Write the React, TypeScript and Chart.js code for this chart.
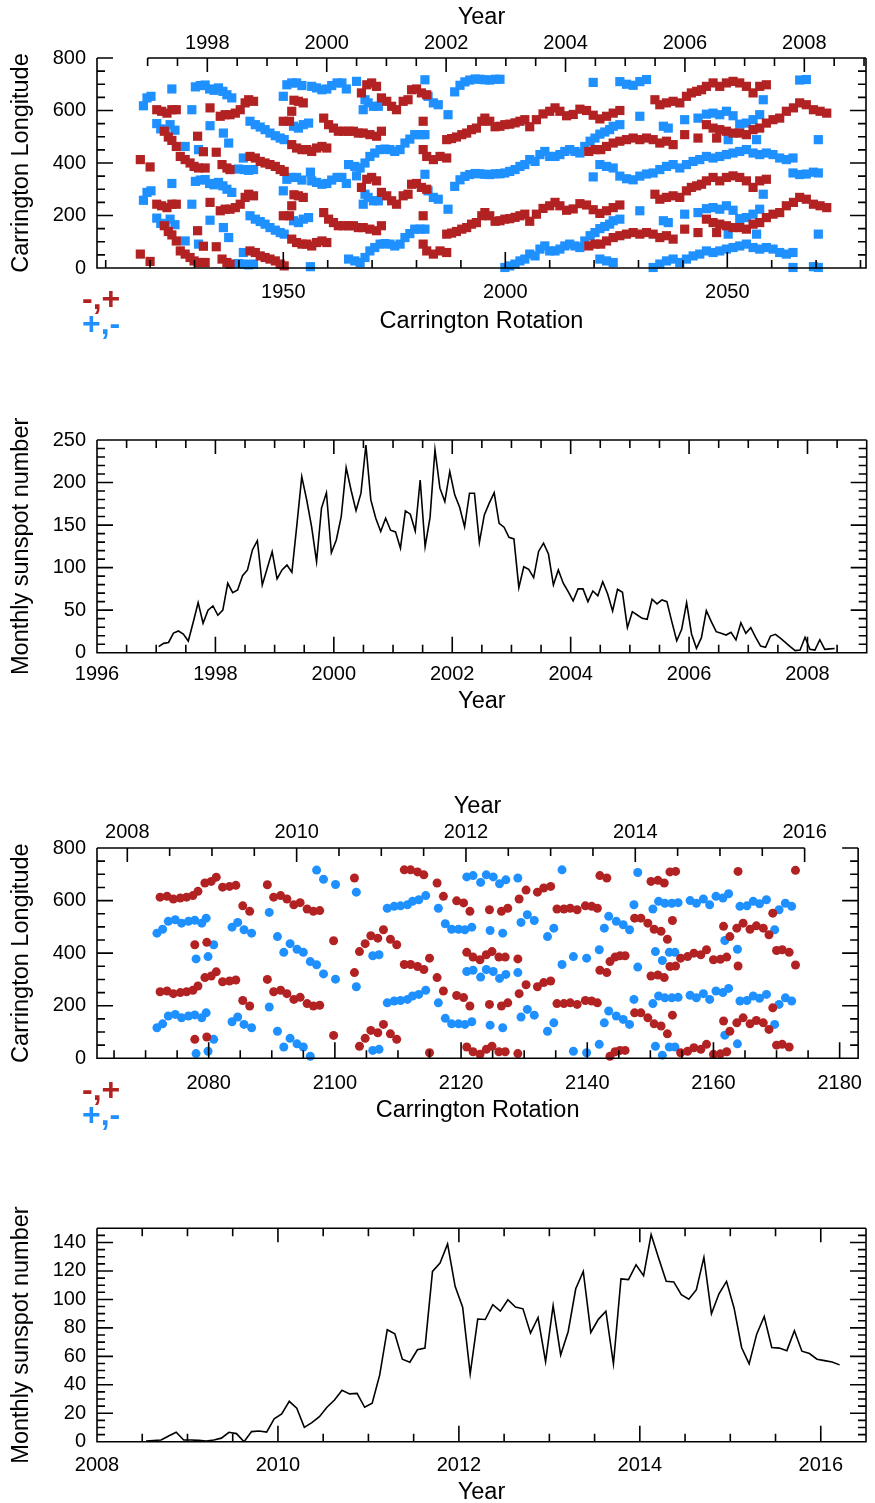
import React, { useEffect, useRef } from 'react';
import { Chart, registerables } from 'chart.js';

Chart.register(...registerables);

const FONT_FAMILY = "'Liberation Sans', Arial, Helvetica, sans-serif";
const TICK_SIZE = 20;
const TITLE_SIZE = 23.5;
const RED = '#B22222';
const BLUE = '#1E90FF';
const W = 875;

// ---------------- Panel 1: active longitudes, CR 1908-2081 (base longitude 0-360, drawn at L and L+360)
const p1RedCR = [1917.8,1920.0,1921.5,1922.6,1923.8,1924.9,1925.9,1923.2,1924.1,1924.9,1925.9,1926.8,1927.9,1929.0,1929.9,1930.9,1932.4,1930.7,1932.0,1934.9,1933.5,1936.2,1937.3,1938.0,1935.8,1936.9,1938.0,1939.2,1940.3,1941.4,1942.2,1943.3,1942.5,1943.7,1944.8,1945.9,1947.0,1948.2,1949.3,1950.2,1950.0,1951.4,1951.9,1952.4,1953.4,1954.5,1951.9,1953.0,1954.2,1955.3,1956.4,1957.5,1958.7,1959.8,1959.1,1960.2,1961.3,1962.4,1963.6,1964.7,1965.8,1966.9,1968.0,1969.5,1971.0,1972.1,1967.6,1968.8,1969.9,1971.0,1972.1,1973.3,1974.4,1975.5,1977.0,1978.1,1978.9,1980.0,1981.1,1982.3,1981.5,1981.5,1982.3,1983.8,1985.3,1986.8,1986.8,1987.9,1989.0,1990.2,1991.3,1992.4,1993.5,1994.7,1995.4,1996.5,1997.7,1998.8,1999.9,2001.0,2002.2,2003.3,2004.4,2005.5,2007.0,2008.5,2010.0,2011.2,2012.3,2013.8,2015.3,2016.8,2018.3,2019.8,2021.3,2022.8,2024.3,2025.8,2018.8,2020.2,2021.5,2022.8,2024.3,2025.8,2027.3,2028.8,2030.3,2031.8,2033.3,2034.8,2036.3,2037.8,2040.4,2043.4,2047.6,2033.7,2034.8,2036.3,2037.8,2039.3,2040.8,2041.9,2043.1,2044.2,2045.3,2046.8,2048.3,2049.8,2051.3,2052.8,2054.3,2055.8,2057.3,2058.8,2045.3,2046.8,2048.3,2049.8,2051.3,2052.8,2054.3,2055.8,2057.3,2058.8,2060.3,2061.8,2063.3,2064.9,2066.3,2067.8,2069.4,2070.9,2072.4];
const p1RedLon = [53,25,243,237,230,243,243,161,139,126,103,65,53,40,27,21,21,142,83,81,250,34,21,15,218,224,224,230,243,269,281,275,65,59,46,40,34,27,15,8,199,199,237,279,275,269,110,97,91,91,84,97,103,97,211,186,173,161,161,161,161,154,154,148,142,161,307,338,345,332,288,275,256,243,275,281,319,322,307,300,199,91,65,53,65,59,129,133,139,148,154,167,173,199,211,199,178,180,186,188,193,199,205,178,205,227,237,250,237,220,225,245,240,222,208,218,230,240,84,91,91,103,116,123,129,135,129,135,129,116,123,110,148,135,135,281,262,269,275,269,294,307,313,319,332,345,332,345,351,345,332,307,332,338,186,173,167,161,154,154,148,167,173,192,205,211,237,250,269,262,243,237,230];
const p1BlueCR = [1918.5,1919.3,1920.2,1924.9,1921.5,1922.4,1923.4,1924.5,1925.6,1927.9,1929.4,1930.9,1930.2,1931.3,1932.4,1933.4,1934.4,1935.4,1936.4,1937.3,1938.4,1933.5,1936.5,1937.7,1941.0,1939.9,1941.2,1942.2,1943.3,1942.5,1943.7,1944.8,1945.9,1947.0,1948.2,1949.3,1950.2,1950.0,1950.8,1951.9,1953.0,1954.2,1956.4,1957.5,1958.7,1959.8,1960.9,1962.1,1963.2,1964.2,1952.3,1953.4,1954.5,1955.7,1956.1,1964.7,1966.1,1967.3,1968.4,1969.5,1970.6,1971.8,1972.9,1974.0,1975.1,1976.3,1977.4,1978.5,1979.6,1980.8,1981.9,1966.5,1968.0,1968.4,1969.1,1970.3,1971.4,1981.9,1982.6,1983.8,1984.9,1987.1,1988.6,1989.8,1990.9,1992.0,1993.2,1994.3,1995.4,1996.5,1997.7,1998.8,1999.9,2001.0,2002.2,2003.3,2004.4,2005.5,2006.7,2007.8,2008.9,2010.0,2011.2,2012.3,2013.4,2014.5,2015.7,2016.8,2017.9,2019.1,2020.2,2021.3,2022.4,2023.5,2024.3,2025.8,2019.8,2021.3,2022.8,2024.3,2025.8,2027.3,2028.8,2030.3,2031.8,2033.3,2034.8,2036.3,2037.8,2039.3,2040.8,2042.3,2043.8,2045.3,2046.8,2048.3,2049.8,2051.3,2052.8,2054.3,2055.8,2057.3,2058.8,2060.3,2061.8,2063.3,2064.8,2064.8,2066.3,2067.8,2069.4,2070.5,2045.3,2046.8,2048.3,2049.8,2051.3,2052.8,2054.3,2055.8,2057.3,2058.1,2030.3,2035.6,2036.7,2040.4,2043.4,2050.2,2056.6,2070.5];
const p1BlueLon = [258,288,294,322,190,170,167,186,165,103,243,91,330,335,337,322,317,326,313,300,288,182,154,116,59,17,15,12,15,199,186,177,167,154,144,135,129,294,338,345,345,335,332,326,319,322,335,345,345,322,180,173,186,192,5,34,27,21,40,65,78,91,93,91,84,91,116,131,148,148,148,351,243,281,269,256,256,357,294,269,262,224,311,336,349,356,360,359,357,356,359,359,2,8,15,27,34,53,46,72,84,65,65,72,84,91,84,78,103,123,135,150,158,167,180,186,347,34,27,21,350,340,336,350,358,2,15,27,34,21,34,46,53,65,59,65,72,78,84,91,78,72,78,72,59,53,59,2,356,358,5,2,226,230,224,237,220,188,192,205,224,281,218,180,173,205,211,129,129,129];
const p1LonTicks = [0, 200, 400, 600, 800];
const p1CRTicks = [1950, 2000, 2050];
const p1YearTicks = [1998, 2000, 2002, 2004, 2006, 2008];

// ---------------- Panel 2: monthly sunspot number, Jan 1997 - Jun 2008
const ssn1Start = 1997;
const ssn1 = [
  7.1, 11, 12, 23, 25.5, 22, 13.7, 35.8, 58.8, 34.6, 50, 55,
  44, 50, 81.6, 70.6, 73.7, 90.6, 97.3, 120.8, 131.8, 79.6, 99.3, 118.8,
  86.7, 97.3, 103, 94.6, 149.6, 207, 179.6, 148, 107, 170, 188, 117.5,
  132.5, 160, 217.6, 191, 167, 187.5, 244, 179.6, 158, 142.4, 158, 144,
  142, 122.8, 166.7, 162.8, 143, 203, 124.7, 159, 238.5, 193.4, 177.7, 213,
  185.5, 171, 148, 187.5, 187.5, 129.5, 162, 175.8, 188, 152, 147.5, 135.7,
  133.7, 76.5, 101, 98, 88.3, 119, 128.7, 116, 79.6, 97.3, 81.7, 71.8,
  60.8, 75, 75, 60, 72.5, 67, 83.5, 69, 49, 74.6, 71, 29.4,
  48.2, 44.3, 40.4, 39.3, 62.8, 57.3, 62, 60, 36.5, 14.1, 27.5, 58.8,
  22, 5.2, 17.7, 49.4, 36.5, 24.7, 22.8, 20.8, 24, 15, 35.3, 22.8,
  29.4, 18.1, 7.8, 6.3, 19.6, 21.6, 17, 12.2, 7.1, 2.4, 3.1, 18.1,
  4, 3.1, 15.3, 4, 4.5, 5,
];
const p2YearTicks = [1996, 1998, 2000, 2002, 2004, 2006, 2008];
const p2SsnTicks = [0, 50, 100, 150, 200, 250];

// ---------------- Panel 3: active longitudes, CR 2062-2183
const p3RedCR = [2072.3,2073.4,2074.4,2075.5,2076.5,2077.5,2078.3,2079.4,2080.4,2081.2,2082.2,2083.3,2084.3,2085.4,2086.5,2089.3,2090.3,2091.4,2092.4,2093.5,2094.5,2095.6,2096.6,2097.6,2077.8,2079.7,2099.8,2103.1,2111.0,2112.0,2113.1,2114.1,2116.2,2117.2,2119.3,2120.4,2121.4,2124.5,2126.4,2127.4,2129.2,2130.3,2132.1,2133.1,2134.2,2103.9,2104.8,2105.7,2106.8,2107.7,2108.8,2109.8,2115.0,2120.9,2121.9,2123.0,2124.0,2124.9,2126.0,2127.0,2129.0,2135.2,2136.3,2137.3,2138.4,2139.7,2140.7,2141.6,2142.0,2143.1,2143.6,2144.4,2145.2,2146.0,2147.5,2148.5,2149.6,2150.6,2151.7,2152.7,2150.1,2151.2,2152.2,2153.1,2154.0,2153.5,2154.8,2155.9,2156.9,2158.0,2158.9,2160.0,2161.1,2162.1,2161.6,2162.6,2163.7,2164.7,2165.8,2166.8,2167.9,2168.8,2163.9,2169.4,2170.0,2170.9,2172.0,2173.0];
const p3RedLon = [253,256,246,250,253,259,275,307,313,329,291,294,298,220,199,300,253,259,246,224,232,208,199,202,72,81,87,326,357,357,349,338,307,256,239,231,199,205,199,211,246,280,272,288,294,46,76,106,97,129,93,72,21,43,25,15,34,46,25,25,18,208,208,211,205,220,218,211,335,326,8,25,30,30,173,173,154,131,123,93,313,317,307,349,351,164,21,27,40,34,53,15,17,25,142,103,135,154,131,144,135,110,351,192,50,53,43,355];
const p3BlueCR = [2071.8,2072.7,2073.6,2074.7,2075.7,2076.8,2077.8,2078.9,2079.6,2078.0,2079.9,2080.8,2083.7,2084.6,2085.6,2086.8,2089.6,2090.9,2091.9,2092.9,2094.0,2095.0,2096.1,2097.1,2098.2,2100.1,2103.4,2108.3,2109.4,2110.4,2111.5,2112.3,2113.3,2114.4,2106.0,2107.0,2116.4,2117.5,2118.5,2119.6,2120.6,2121.7,2120.9,2121.9,2123.1,2124.0,2125.1,2126.1,2127.1,2129.0,2124.6,2126.6,2129.5,2130.5,2131.6,2133.7,2134.7,2136.0,2137.8,2139.9,2141.9,2148.0,2147.4,2150.4,2151.3,2152.3,2153.4,2154.4,2156.3,2157.3,2158.4,2159.4,2160.4,2161.5,2162.4,2164.2,2165.3,2166.3,2167.3,2168.4,2170.4,2171.4,2172.4,2143.4,2144.6,2145.7,2146.7,2142.7,2150.8,2151.9,2153.0,2153.9,2161.8,2163.8,2169.7];
const p3BlueLon = [116,131,161,167,154,161,165,154,173,18,27,72,139,157,129,116,195,103,43,76,55,43,8,356,321,301,272,211,218,220,224,237,243,259,30,34,211,152,131,131,129,139,330,335,309,338,330,304,319,326,126,116,157,186,164,103,135,357,27,21,53,347,224,208,237,230,230,232,240,230,246,224,256,250,266,218,220,237,228,243,205,230,218,180,161,148,129,135,46,12,43,43,88,55,129];
const p3LonTicks = [0, 200, 400, 600, 800];
const p3CRTicks = [2080, 2100, 2120, 2140, 2160, 2180];
const p3YearTicks = [2008, 2010, 2012, 2014, 2016];

// ---------------- Panel 4: monthly sunspot number, Jul 2008 - Mar 2016
const ssn2Start = 2008.5;
const ssn2 = [
  0.5, 0.8, 1.2, 4, 6.6, 1.2,
  1.2, 0.9, 0.5, 1.2, 2.5, 6.6, 5.7, 0, 7.1, 7.5, 6.8, 16,
  19.5, 28.4, 23.5, 10.1, 13.4, 17.6, 24.2, 29.3, 36.2, 33.6, 34, 24.2,
  27, 47, 78.7, 75.8, 58, 55.9, 64.6, 65.8, 119.7, 125.6, 139, 109.2,
  94.6, 47.7, 86.2, 85.9, 96.3, 91.8, 99.8, 94.6, 93.4, 76.3, 87.3, 56.3,
  95.6, 61, 77.5, 107.5, 119.7, 76.8, 86, 91.7, 54.7, 114.4, 113.9, 124.4,
  116.7, 145.6, 129, 112.7, 112.3, 103.3, 100.2, 106.8, 129.6, 90, 104, 112.7,
  94, 66.2, 54.7, 75.6, 88, 66.2, 65.8, 64, 78, 63.6, 62, 58,
  57, 56, 54,
];
const p4YearTicks = [2008, 2010, 2012, 2014, 2016];
const p4SsnTicks = [0, 20, 40, 60, 80, 100, 120, 140];

// ---------------- helpers
function range(a: number, b: number, step: number): number[] {
  const out: number[] = [];
  for (let v = a; v <= b + 1e-9; v += step) out.push(Math.round(v * 1000) / 1000);
  return out;
}

function wrapLon(cr: number[], lon: number[]) {
  const pts: { x: number; y: number }[] = [];
  cr.forEach((c, i) => {
    pts.push({ x: c, y: lon[i] });
    pts.push({ x: c, y: lon[i] + 360 });
  });
  return pts;
}

function monthly(start: number, vals: number[]) {
  return vals.map((v, i) => ({ x: start + (i + 0.5) / 12, y: v }));
}

const tickFont = { family: FONT_FAMILY, size: TICK_SIZE };
const titleFont = { family: FONT_FAMILY, size: TITLE_SIZE };

function fixedTicks(values: number[]) {
  return (scale: any) => {
    scale.ticks = values.map((v) => ({ value: v }));
  };
}

function yLeft(min: number, max: number, ticks: number[], title: string) {
  return {
    type: 'linear',
    position: 'left',
    min,
    max,
    grid: { display: false, drawTicks: false },
    border: { display: false },
    afterBuildTicks: fixedTicks(ticks),
    afterFit: (s: any) => { s.width = 97; },
    ticks: { font: tickFont, color: '#000', padding: 11, autoSkip: false, callback: (v: any) => String(v) },
    title: { display: true, text: title, font: titleFont, color: '#000', padding: { top: 7.9, bottom: 0 } },
  };
}

function xAxis(pos: 'top' | 'bottom', min: number, max: number, ticks: number[], title: string, height: number, labelPad: number, titlePad: number) {
  return {
    type: 'linear',
    position: pos,
    min,
    max,
    grid: { display: false, drawTicks: false },
    border: { display: false },
    afterBuildTicks: fixedTicks(ticks),
    afterFit: (s: any) => { s.height = height; },
    ticks: { font: tickFont, color: '#000', padding: labelPad, autoSkip: false, maxRotation: 0, minRotation: 0, callback: (v: any) => String(v) },
    title: {
      display: true, text: title, font: titleFont, color: '#000',
      padding: pos === 'top' ? { top: titlePad, bottom: 0 } : { top: 0, bottom: titlePad },
    },
  };
}

type AxisTicks = { id: string; major: number[]; minor: number[] };
type FrameSpec = { y: AxisTicks; bottom: AxisTicks; top: AxisTicks & { from: number; to: number } };

function framePlugin(spec: FrameSpec) {
  return {
    id: 'idlFrame',
    afterDraw(chart: any) {
      const ctx = chart.ctx;
      const a = chart.chartArea;
      const ys = chart.scales[spec.y.id];
      const xs = chart.scales[spec.bottom.id];
      const ts = chart.scales[spec.top.id];
      ctx.save();
      ctx.strokeStyle = '#000';
      ctx.lineWidth = 1.6;
      ctx.lineCap = 'butt';
      ctx.beginPath();
      ctx.moveTo(a.left, a.top);
      ctx.lineTo(a.left, a.bottom);
      ctx.lineTo(a.right, a.bottom);
      ctx.lineTo(a.right, a.top);
      const t0 = Math.max(a.left, ts.getPixelForValue(spec.top.from));
      const t1 = Math.min(a.right, ts.getPixelForValue(spec.top.to));
      ctx.moveTo(t0, a.top);
      ctx.lineTo(t1, a.top);
      const yTick = (v: number, len: number) => {
        const p = ys.getPixelForValue(v);
        ctx.moveTo(a.left, p); ctx.lineTo(a.left + len, p);
        ctx.moveTo(a.right, p); ctx.lineTo(a.right - len, p);
      };
      spec.y.major.forEach((v) => yTick(v, 16));
      spec.y.minor.forEach((v) => yTick(v, 8));
      const bTick = (v: number, len: number) => {
        const p = xs.getPixelForValue(v);
        ctx.moveTo(p, a.bottom); ctx.lineTo(p, a.bottom - len);
      };
      spec.bottom.major.forEach((v) => bTick(v, 16));
      spec.bottom.minor.forEach((v) => bTick(v, 8));
      const tTick = (v: number, len: number) => {
        const p = ts.getPixelForValue(v);
        ctx.moveTo(p, a.top); ctx.lineTo(p, a.top + len);
      };
      spec.top.major.forEach((v) => tTick(v, 14));
      spec.top.minor.forEach((v) => tTick(v, 8));
      ctx.stroke();
      ctx.restore();
    },
  };
}

function scatterSet(pts: any[], color: string, style: string, radius: number) {
  return {
    data: pts,
    backgroundColor: color,
    borderColor: color,
    borderWidth: 0,
    pointBorderWidth: 0,
    pointStyle: style,
    pointRadius: radius,
    pointHoverRadius: radius,
    showLine: false,
    clip: false,
  };
}

function lineSet(pts: any[]) {
  return {
    data: pts,
    borderColor: '#000',
    backgroundColor: '#000',
    borderWidth: 1.6,
    pointRadius: 0,
    showLine: true,
    tension: 0,
    fill: false,
  };
}

const baseOptions = {
  responsive: false,
  maintainAspectRatio: false,
  devicePixelRatio: 1,
  animation: false,
  events: [],
  plugins: { legend: { display: false }, tooltip: { enabled: false } },
};

// ---------------- chart builders
function buildP1(canvas: HTMLCanvasElement) {
  const crMin = 1908.04, crMax = 2081.24, yrMin = 1996.152, yrMax = 2009.033;
  return new Chart(canvas, {
    type: 'scatter',
    data: {
      datasets: [
        scatterSet(wrapLon(p1RedCR, p1RedLon), RED, 'rect', 6.5),
        scatterSet(wrapLon(p1BlueCR, p1BlueLon), BLUE, 'rect', 6.5),
      ],
    },
    options: {
      ...baseOptions,
      layout: { padding: { left: 0, right: 9, top: 0, bottom: 0 } },
      scales: {
        x: xAxis('bottom', crMin, crMax, p1CRTicks, 'Carrington Rotation', 77, 12, 8.9),
        x2: xAxis('top', yrMin, yrMax, p1YearTicks, 'Year', 58, 3, 3.9),
        y: yLeft(0, 800, p1LonTicks, 'Carrington Longitude'),
      },
    } as any,
    plugins: [framePlugin({
      y: { id: 'y', major: p1LonTicks, minor: range(0, 800, 50) },
      bottom: { id: 'x', major: p1CRTicks, minor: range(1910, 2080, 10) },
      top: { id: 'x2', major: p1YearTicks, minor: range(1997, 2009, 0.5), from: 1997, to: yrMax },
    })],
  } as any);
}

function buildP2(canvas: HTMLCanvasElement) {
  return new Chart(canvas, {
    type: 'scatter',
    data: { datasets: [lineSet(monthly(ssn1Start, ssn1))] },
    options: {
      ...baseOptions,
      layout: { padding: { left: 0, right: 8.3, top: 95, bottom: 0 } },
      scales: {
        x: xAxis('bottom', 1996, 2009, p2YearTicks, 'Year', 67.3, 9.3, 3.9),
        y: yLeft(0, 250, p2SsnTicks, 'Monthly sunspot number'),
      },
    } as any,
    plugins: [framePlugin({
      y: { id: 'y', major: p2SsnTicks, minor: range(0, 250, 10) },
      bottom: { id: 'x', major: p2YearTicks, minor: range(1996, 2009, 0.5) },
      top: { id: 'x', major: p2YearTicks, minor: range(1996, 2009, 0.5), from: 1996, to: 2009 },
    })],
  } as any);
}

function buildP3(canvas: HTMLCanvasElement) {
  const crMin = 2062.3, crMax = 2182.93, yrMin = 2007.642, yrMax = 2016.632;
  return new Chart(canvas, {
    type: 'scatter',
    data: {
      datasets: [
        scatterSet(wrapLon(p3RedCR, p3RedLon), RED, 'circle', 4.5),
        scatterSet(wrapLon(p3BlueCR, p3BlueLon), BLUE, 'circle', 4.5),
      ],
    },
    options: {
      ...baseOptions,
      layout: { padding: { left: 0, right: 9, top: 0, bottom: 0 } },
      scales: {
        x: xAxis('bottom', crMin, crMax, p3CRTicks, 'Carrington Rotation', 71.7, 12.7, 4.9),
        x2: xAxis('top', yrMin, yrMax, p3YearTicks, 'Year', 128, 4, 72.9),
        y: yLeft(0, 800, p3LonTicks, 'Carrington Longitude'),
      },
    } as any,
    plugins: [framePlugin({
      y: { id: 'y', major: p3LonTicks, minor: range(0, 800, 50) },
      bottom: { id: 'x', major: p3CRTicks, minor: range(2065, 2180, 5) },
      top: { id: 'x2', major: p3YearTicks, minor: range(2008, 2016, 0.5), from: yrMin, to: 2016 },
    })],
  } as any);
}

function buildP4(canvas: HTMLCanvasElement) {
  return new Chart(canvas, {
    type: 'scatter',
    data: { datasets: [lineSet(monthly(ssn2Start, ssn2))] },
    options: {
      ...baseOptions,
      layout: { padding: { left: 0, right: 9, top: 98.3, bottom: 0 } },
      scales: {
        x: xAxis('bottom', 2008, 2016.5, p4YearTicks, 'Year', 61.3, 11.3, -4),
        y: yLeft(0, 150, p4SsnTicks, 'Monthly sunspot number'),
      },
    } as any,
    plugins: [framePlugin({
      y: { id: 'y', major: p4SsnTicks, minor: range(0, 150, 5) },
      bottom: { id: 'x', major: p4YearTicks, minor: range(2008, 2016.5, 0.5) },
      top: { id: 'x', major: p4YearTicks, minor: range(2008, 2016.5, 0.5), from: 2008, to: 2016.5 },
    })],
  } as any);
}

function ChartCanvas({ top, height, build }: { top: number; height: number; build: (c: HTMLCanvasElement) => Chart }) {
  const ref = useRef<HTMLCanvasElement>(null);
  useEffect(() => {
    if (!ref.current) return;
    const chart = build(ref.current);
    return () => chart.destroy();
  }, []);
  return (
    <canvas
      ref={ref}
      width={W}
      height={height}
      style={{ position: 'absolute', left: 0, top, width: W, height, display: 'block' }}
    />
  );
}

function PolarityLegend({ top }: { top: number }) {
  const base: React.CSSProperties = {
    position: 'absolute',
    left: 82,
    fontFamily: FONT_FAMILY,
    fontWeight: 'bold',
    fontSize: 32,
    lineHeight: '32px',
    whiteSpace: 'pre',
  };
  return (
    <>
      <div style={{ ...base, top, color: RED }}>-,+</div>
      <div style={{ ...base, top: top + 25, color: BLUE }}>+,-</div>
    </>
  );
}

export default function App() {
  return (
    <div style={{ position: 'absolute', left: 0, top: 0, width: W, height: 1503, background: '#fff', overflow: 'hidden' }}>
      <ChartCanvas top={0} height={345} build={buildP1} />
      <ChartCanvas top={345} height={375} build={buildP2} />
      <ChartCanvas top={720} height={410} build={buildP3} />
      <ChartCanvas top={1130} height={373} build={buildP4} />
      <PolarityLegend top={282} />
      <PolarityLegend top={1073} />
    </div>
  );
}
